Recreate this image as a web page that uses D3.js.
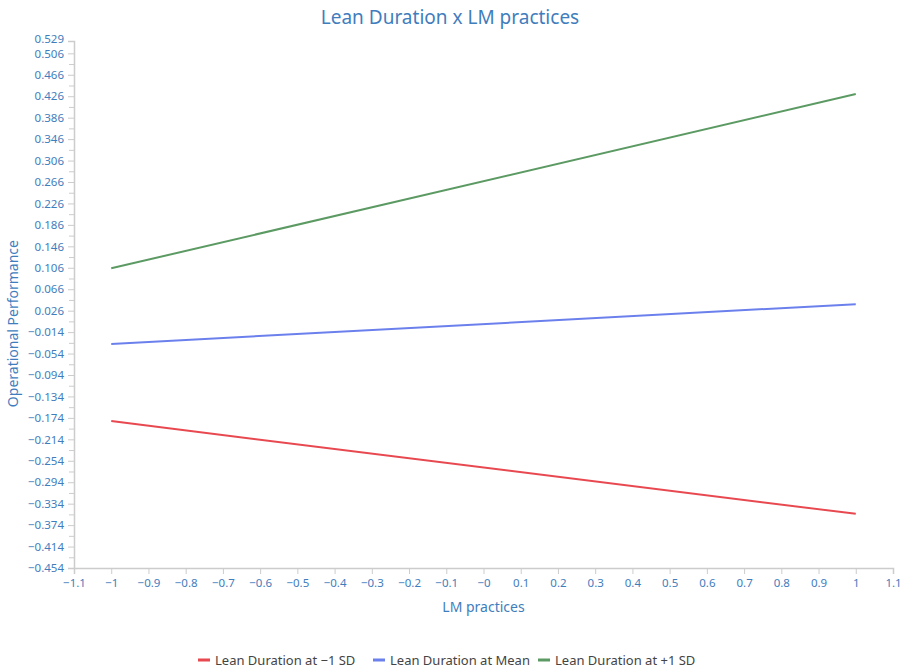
<!DOCTYPE html>
<html>
<head>
<meta charset="utf-8">
<script src="https://cdn.jsdelivr.net/npm/d3@7"></script>
<style>
  body { margin: 0; background: #fff; }
  svg text { font-family: "Noto Sans", "Open Sans", sans-serif; }
</style>
</head>
<body>
<div id="chart"></div>
<script>
// chart data
var xPoints = [-1, 1];
var seriesNames = ["Lean Duration at \u22121 SD", "Lean Duration at Mean", "Lean Duration at +1 SD"];
var lowSD = [-0.180, -0.353];
var atMean = [-0.036, 0.038];
var highSD = [0.105, 0.430];
var seriesColors = ["#e8484f", "#6b80ec", "#5c9a63"];

var xTicks = [-1.1, -1, -0.9, -0.8, -0.7, -0.6, -0.5, -0.4, -0.3, -0.2, -0.1, 0, 0.1, 0.2, 0.3, 0.4, 0.5, 0.6, 0.7, 0.8, 0.9, 1, 1.1];
var xTickLabels = ["\u22121.1", "\u22121", "\u22120.9", "\u22120.8", "\u22120.7", "\u22120.6", "\u22120.5", "\u22120.4", "\u22120.3", "\u22120.2", "\u22120.1", "\u22120", "0.1", "0.2", "0.3", "0.4", "0.5", "0.6", "0.7", "0.8", "0.9", "1", "1.1"];
var yTicks = [-0.454, -0.414, -0.374, -0.334, -0.294, -0.254, -0.214, -0.174, -0.134, -0.094, -0.054, -0.014, 0.026, 0.066, 0.106, 0.146, 0.186, 0.226, 0.266, 0.306, 0.346, 0.386, 0.426, 0.466, 0.506, 0.529];
var yMinorTicks = [-0.434, -0.394, -0.354, -0.314, -0.274, -0.234, -0.194, -0.154, -0.114, -0.074, -0.034, 0.006, 0.046, 0.086, 0.126, 0.166, 0.206, 0.246, 0.286, 0.326, 0.366, 0.406, 0.446, 0.486];

var W = 903, H = 667;
var margin = {top: 41, right: 10, bottom: 99, left: 74};
var width = W - margin.left - margin.right,
    height = H - margin.top - margin.bottom;
var textColor = "#3f7dbd";

var x = d3.scaleLinear().domain([-1.1, 1.1]).range([0, width]);
var y = d3.scaleLinear().domain([-0.454, 0.529]).range([height, 0]);

var svg = d3.select("#chart").append("svg")
    .attr("width", W)
    .attr("height", H);

svg.append("text")
    .attr("x", 450)
    .attr("y", 24)
    .attr("text-anchor", "middle")
    .attr("fill", textColor)
    .style("font-size", "19px")
    .text("Lean Duration x LM practices");

var g = svg.append("g")
    .attr("transform", "translate(" + margin.left + "," + margin.top + ")");

// minor y ticks
g.append("g")
    .attr("class", "minor")
    .call(d3.axisLeft(y).tickValues(yMinorTicks).tickSize(5).tickFormat(""))
    .call(function(a) { a.select(".domain").remove(); });

var yAxis = g.append("g")
    .call(d3.axisLeft(y).tickValues(yTicks).tickSize(6).tickPadding(4)
        .tickFormat(function(d) { return d3.format(".3f")(d); }));

// top label sits tight against the next one, nudge it up a bit
yAxis.selectAll(".tick").filter(function(d) { return d === 0.529; })
    .select("text").attr("dy", "0.1em");

var xAxis = g.append("g")
    .attr("transform", "translate(0," + height + ")")
    .call(d3.axisBottom(x).tickValues(xTicks).tickSize(6).tickPadding(5)
        .tickFormat(function(d, i) { return xTickLabels[i]; }));

g.selectAll(".domain, .tick line").attr("stroke", "#cccccc");
g.selectAll(".domain").attr("stroke-width", 1.5);
g.selectAll(".tick text").attr("fill", textColor).style("font-size", "11.5px");

g.append("text")
    .attr("text-anchor", "middle")
    .attr("x", x(0))
    .attr("y", height + 44)
    .attr("fill", textColor)
    .style("font-size", "14px")
    .text("LM practices");

g.append("text")
    .attr("text-anchor", "middle")
    .attr("transform", "translate(" + (-margin.left + 18) + "," + (y(0) - 1) + ")rotate(-90)")
    .attr("fill", textColor)
    .style("font-size", "14px")
    .text("Operational Performance");

var allSeries = [lowSD, atMean, highSD];
var line = d3.line()
    .x(function(d, i) { return x(xPoints[i]); })
    .y(function(d) { return y(d); });

allSeries.forEach(function(s, k) {
    g.append("path")
        .datum(s)
        .attr("fill", "none")
        .attr("stroke", seriesColors[k])
        .attr("stroke-width", 2)
        .attr("d", line);
});

// legend
var legend = svg.append("g").attr("transform", "translate(0,660)");
var legendX = [198, 373, 538];
seriesNames.forEach(function(name, k) {
    var item = legend.append("g").attr("transform", "translate(" + legendX[k] + ",0)");
    item.append("rect")
        .attr("x", 0).attr("y", -1.5)
        .attr("width", 12).attr("height", 3)
        .attr("fill", seriesColors[k]);
    item.append("text")
        .attr("x", 17)
        .attr("y", 4.5)
        .attr("fill", "#444")
        .style("font-size", "13px")
        .text(name);
});
</script>
</body>
</html>
